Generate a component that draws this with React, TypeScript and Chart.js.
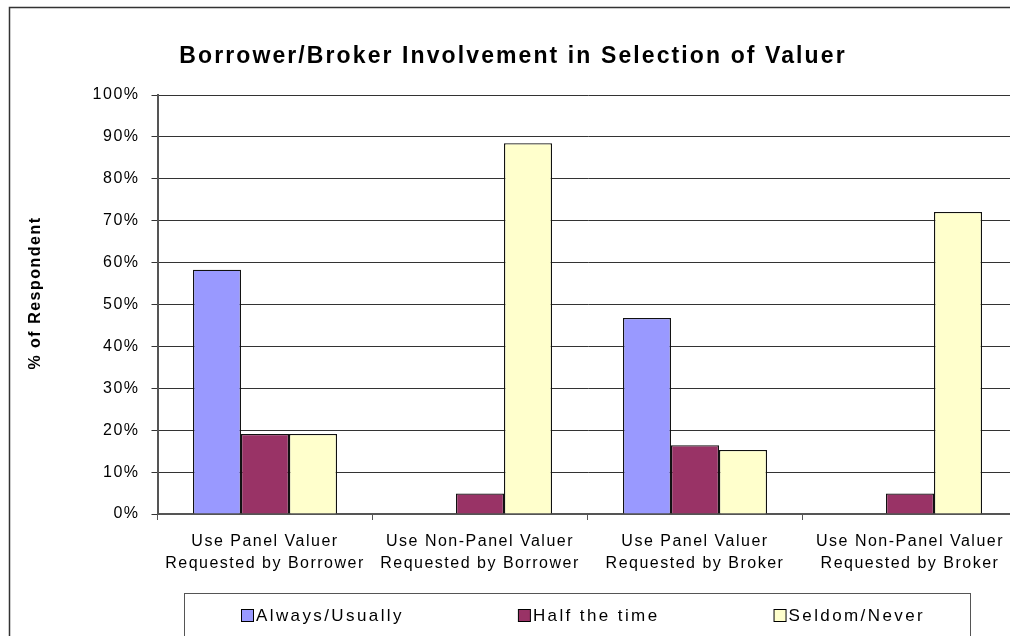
import React, { useEffect, useRef } from "react";
import { Chart, registerables } from "chart.js";

Chart.register(...registerables);

const chartTitle = "Borrower/Broker Involvement in Selection of Valuer";
const yAxisTitle = "% of Respondent";

const categories: string[][] = [
  ["Use Panel Valuer", "Requested by Borrower"],
  ["Use Non-Panel Valuer", "Requested by Borrower"],
  ["Use Panel Valuer", "Requested by Broker"],
  ["Use Non-Panel Valuer", "Requested by Broker"],
];

const seriesNames = ["Always/Usually", "Half the time", "Seldom/Never"];
const alwaysUsually: (number | null)[] = [58.3, null, 46.8, null];
const halfTheTime: (number | null)[] = [19.1, 4.9, 16.4, 4.9];
const seldomNever: (number | null)[] = [19.1, 88.5, 15.3, 72.1];

const yMin = 0;
const yMax = 100;
const yStep = 10;

const seriesColors = ["#9999FF", "#993366", "#FFFFCC"];
const FONT = '"Liberation Sans", Arial, sans-serif';

const decorPlugin = {
  id: "decor",
  beforeDraw(chart: any) {
    const ctx = chart.ctx as CanvasRenderingContext2D;
    ctx.save();
    ctx.fillStyle = "#ffffff";
    ctx.fillRect(0, 0, chart.width, chart.height);
    ctx.restore();
    (ctx as any).letterSpacing = "1.5px";
  },
  afterDraw(chart: any) {
    const ctx = chart.ctx as CanvasRenderingContext2D;
    ctx.save();
    // outer frame
    ctx.strokeStyle = "#333";
    ctx.lineWidth = 1.5;
    ctx.strokeRect(9.5, 7.5, chart.width, chart.height);

    // main title
    (ctx as any).letterSpacing = "2.1px";
    ctx.font = `bold 23px ${FONT}`;
    ctx.fillStyle = "#000";
    ctx.textAlign = "center";
    ctx.textBaseline = "alphabetic";
    ctx.fillText(chartTitle, 513, 63);

    // y axis title
    ctx.save();
    ctx.translate(40, 293);
    ctx.rotate(-Math.PI / 2);
    (ctx as any).letterSpacing = "1.5px";
    ctx.font = `bold 16px ${FONT}`;
    ctx.textAlign = "center";
    ctx.textBaseline = "alphabetic";
    ctx.fillText(yAxisTitle, 0, 0);
    ctx.restore();

    // legend box
    ctx.strokeStyle = "#555";
    ctx.lineWidth = 1;
    ctx.strokeRect(184.5, 593.5, 786, 120);
    ctx.font = `17px ${FONT}`;
    (ctx as any).letterSpacing = "2.4px";
    ctx.textAlign = "left";
    ctx.textBaseline = "middle";
    let x = 241;
    chart.data.datasets.forEach((ds: any) => {
      ctx.fillStyle = ds.backgroundColor;
      ctx.fillRect(x + 0.5, 609.5, 12, 12);
      ctx.strokeStyle = "#000";
      ctx.lineWidth = 1;
      ctx.strokeRect(x + 0.5, 609.5, 12, 12);
      ctx.fillStyle = "#000";
      ctx.fillText(ds.label, x + 15, 616);
      x += 16 + ctx.measureText(ds.label).width + 113;
    });
    ctx.restore();
  },
};

export default function App() {
  const canvasRef = useRef<HTMLCanvasElement | null>(null);

  useEffect(() => {
    if (!canvasRef.current) return;
    const seriesData = [alwaysUsually, halfTheTime, seldomNever];
    const chart = new Chart(canvasRef.current, {
      type: "bar",
      data: {
        labels: categories,
        datasets: seriesNames.map((name, i) => ({
          label: name,
          data: seriesData[i],
          backgroundColor: seriesColors[i],
          borderColor: "#111",
          borderWidth: 1.3,
          categoryPercentage: 0.67,
          barPercentage: 1.0,
        })),
      },
      options: {
        responsive: false,
        animation: false,
        devicePixelRatio: 1,
        layout: { padding: { left: 0, right: 12.5, top: 95, bottom: 86 } },
        plugins: {
          legend: { display: false },
          title: { display: false },
          tooltip: { enabled: false },
        },
        scales: {
          x: {
            offset: true,
            afterFit: (scale: any) => {
              scale.height = 60;
              scale.paddingLeft = 0;
              scale.paddingRight = 0;
            },
            grid: {
              display: true,
              drawOnChartArea: false,
              drawTicks: true,
              tickLength: 6,
              color: "#555",
              lineWidth: 1,
            },
            border: { display: true, color: "#555", width: 2 },
            ticks: {
              color: "#000",
              font: { family: FONT, size: 16, lineHeight: 1.375 },
              padding: 11,
              maxRotation: 0,
              autoSkip: false,
            },
          },
          y: {
            min: yMin,
            max: yMax,
            afterFit: (scale: any) => {
              scale.width = 157.5;
            },
            grid: {
              color: "#333",
              lineWidth: 1,
              drawTicks: true,
              tickLength: 6,
            },
            border: { display: true, color: "#555", width: 2 },
            ticks: {
              stepSize: yStep,
              color: "#000",
              font: { family: FONT, size: 16 },
              padding: 12,
              callback: (v: any) => `${v}%`,
            },
          },
        },
      },
      plugins: [decorPlugin],
    });
    return () => chart.destroy();
  }, []);

  return (
    <div
      style={{
        position: "fixed",
        left: 0,
        top: 0,
        width: 1010,
        height: 636,
        overflow: "hidden",
        background: "#fff",
      }}
    >
      <canvas ref={canvasRef} width={1030} height={660} style={{ display: "block" }} />
    </div>
  );
}
